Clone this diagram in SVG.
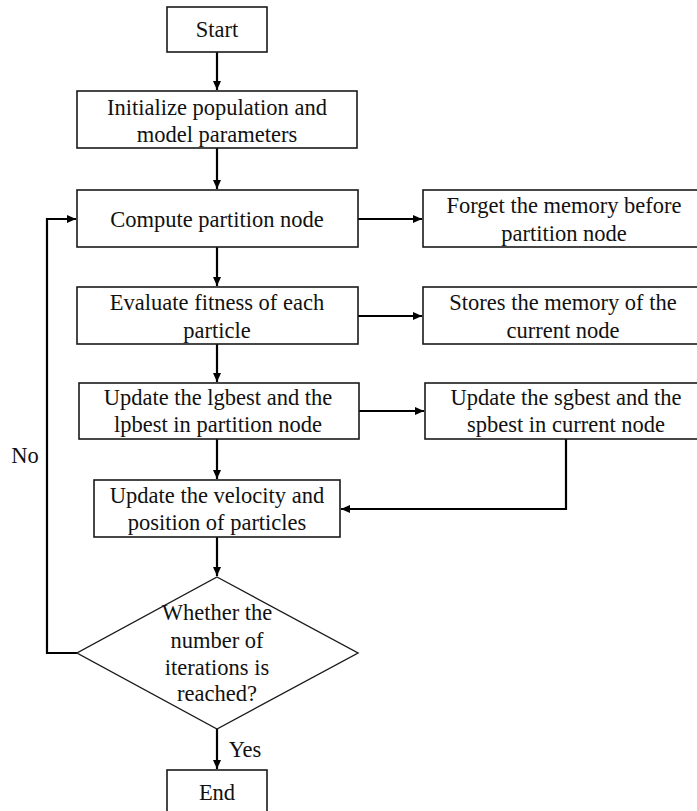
<svg xmlns="http://www.w3.org/2000/svg" width="697" height="811" viewBox="0 0 697 811">
<style>
.box{fill:#fff;stroke:#1a1a1a;stroke-width:1.6}
text{font-family:'Liberation Serif','DejaVu Serif',serif;font-size:22.5px;fill:#111;text-anchor:middle}
.c{fill:none;stroke:#000;stroke-width:2.2}
</style>
<defs>
<marker id="ah" markerWidth="10" markerHeight="10" refX="9" refY="5" orient="auto" markerUnits="userSpaceOnUse">
<path d="M0,1 L9,5 L0,9 Z" fill="#000"/>
</marker>
</defs>
<g id="connectors">
<path class="c" d="M217,52 V90" marker-end="url(#ah)"/>
<path class="c" d="M217,148 V189" marker-end="url(#ah)"/>
<path class="c" d="M358,219 H422" marker-end="url(#ah)"/>
<path class="c" d="M217,247 V286" marker-end="url(#ah)"/>
<path class="c" d="M358,316 H422" marker-end="url(#ah)"/>
<path class="c" d="M217,344 V382" marker-end="url(#ah)"/>
<path class="c" d="M359,411 H424" marker-end="url(#ah)"/>
<path class="c" d="M217,439 V479" marker-end="url(#ah)"/>
<path class="c" d="M566,439 V509 H341" marker-end="url(#ah)"/>
<path class="c" d="M217,537 V576" marker-end="url(#ah)"/>
<path class="c" d="M77,653 H47 V219 H76" marker-end="url(#ah)"/>
<path class="c" d="M217,729 V769" marker-end="url(#ah)"/>
<text x="25" y="463" font-family="Liberation Serif, serif">No</text>
<text x="245" y="757" font-family="Liberation Serif, serif">Yes</text>
</g>
<g id="start"><rect class="box" x="167" y="7" width="100" height="45"/><text x="217" y="37">Start</text></g>
<g id="init"><rect class="box" x="77" y="91" width="280" height="57"/><text x="217" y="115">Initialize population and</text><text x="217" y="142">model parameters</text></g>
<g id="compute"><rect class="box" x="77" y="190" width="281" height="57"/><text x="217" y="227">Compute partition node</text></g>
<g id="forget"><rect class="box" x="423" y="190" width="285" height="57"/><text x="564" y="213">Forget the memory before</text><text x="564" y="241">partition node</text></g>
<g id="evaluate"><rect class="box" x="77" y="287" width="281" height="57"/><text x="217" y="310">Evaluate fitness of each</text><text x="217" y="338">particle</text></g>
<g id="stores"><rect class="box" x="423" y="287" width="285" height="57"/><text x="563" y="310">Stores the memory of the</text><text x="563" y="338">current node</text></g>
<g id="lgbest"><rect class="box" x="79" y="383" width="280" height="56"/><text x="218" y="405">Update the lgbest and the</text><text x="218" y="432">lpbest in partition node</text></g>
<g id="sgbest"><rect class="box" x="425" y="383" width="283" height="56"/><text x="566" y="405">Update the sgbest and the</text><text x="566" y="432">spbest in current node</text></g>
<g id="velocity"><rect class="box" x="94" y="480" width="246" height="57"/><text x="217" y="503">Update the velocity and</text><text x="217" y="530">position of particles</text></g>
<g id="decision"><polygon class="box" points="217,577 358,653 217,729 77,653" style="stroke-width:1.4"/><text x="217" y="620">Whether the</text><text x="217" y="648">number of</text><text x="217" y="675">iterations is</text><text x="217" y="701">reached?</text></g>
<g id="end"><rect class="box" x="167" y="770" width="100" height="50"/><text x="217" y="800">End</text></g>
</svg>
